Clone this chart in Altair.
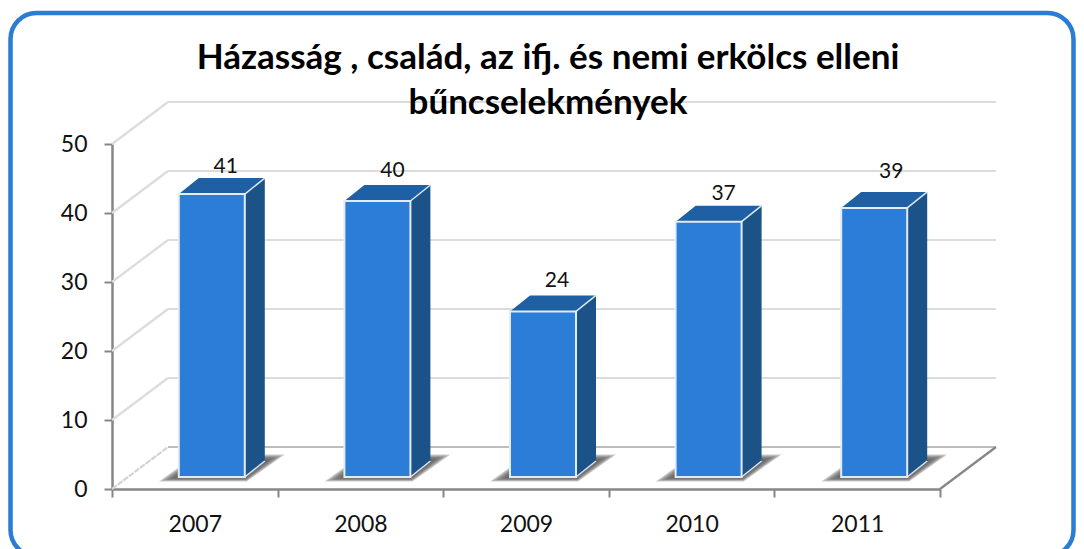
import altair as alt
import pandas as pd

# ---- data
years = ["2007", "2008", "2009", "2010", "2011"]
counts = [41, 40, 24, 37, 39]
y_ticks = [0, 10, 20, 30, 40, 50]
title_lines = ["Házasság , család, az ifj. és nemi erkölcs elleni", "bűncselekmények"]

# ---- projection of the 3D box, in data units (x = category widths, y = value units)
PX_X = 828 / 5
PX_Y = 345 / 50
WALL_DX, WALL_DY = 56 / PX_X, 42 / PX_Y      # depth of the whole floor
BAR_SHIFT_X, BAR_SHIFT_Y = 17 / PX_X, 12 / PX_Y  # front face offset in depth
BAR_W = 66 / PX_X
BAR_DX, BAR_DY = 20 / PX_X, 16 / PX_Y        # depth of one bar
X_MAX = 5
# hand placement of the value labels in the original, relative to the default spot (px)
LABEL_NUDGE = {"2007": (0, -1), "2008": (1, 2), "2009": (0, 2), "2010": (1, 0), "2011": (3, 8)}


def para(key, xl, xr, y, dx, dy):
    """Horizontal parallelogram as an area (front edge xl..xr at y, back shifted by dx, dy)."""
    rows = []
    xs = sorted({xl, xl + dx, xr, xr + dx})
    for x in xs:
        low = y + dy * max(0, min(1, (x - xr) / dx)) if x > xr else y
        high = y + dy * max(0, min(1, (x - xl) / dx))
        rows.append({"k": key, "x": x, "y": low, "y2": high})
    return rows


front, side, top, labels, edges = [], [], [], [], []
shadow_layers = {g: [] for g in [20, 17, 14, 11, 8, 5, 2]}
for i, (yr, v) in enumerate(zip(years, counts)):
    xl = i + 0.5 - 33 / PX_X + BAR_SHIFT_X
    xr = xl + BAR_W
    y0 = BAR_SHIFT_Y
    yt = v + BAR_SHIFT_Y
    front.append({"x": xl, "x2": xr, "y": y0, "y2": yt})
    side += [
        {"k": i, "x": xr, "y": y0, "y2": yt},
        {"k": i, "x": xr + BAR_DX, "y": y0 + BAR_DY, "y2": yt + BAR_DY},
    ]
    top += para(i, xl, xr, yt, BAR_DX, BAR_DY)
    edges.append({"x": xr, "x2": xr + BAR_DX, "y": yt, "y2": yt + BAR_DY})
    edges.append({"x": xr, "x2": xr + BAR_DX, "y": y0, "y2": y0 + BAR_DY})
    nx, ny = LABEL_NUDGE[yr]
    labels.append({"x": (xl + xr) / 2 + nx / PX_X, "y": yt + ny / PX_Y, "t": str(v)})
    # soft shadow on the floor: nested parallelograms around the bar foot
    for grow in shadow_layers:
        shadow_layers[grow] += para(
            i,
            xl - grow / PX_X,
            xr + 0.1 * grow / PX_X,
            y0 - 0.22 * grow / PX_Y,
            BAR_DX + 0.9 * grow / PX_X,
            BAR_DY + 0.55 * grow / PX_Y,
        )

back = pd.DataFrame([{"x": WALL_DX, "x2": X_MAX + WALL_DX, "y": t + WALL_DY, "y2": t + WALL_DY} for t in y_ticks[1:]])
left = pd.DataFrame([{"x": 0, "x2": WALL_DX, "y": t, "y2": t + WALL_DY} for t in y_ticks[1:]])
floor_back = pd.DataFrame([{"x": WALL_DX, "x2": X_MAX + WALL_DX, "y": WALL_DY, "y2": WALL_DY}])
floor_left = pd.DataFrame([{"x": 0, "x2": WALL_DX, "y": 0, "y2": WALL_DY}])
floor_right = pd.DataFrame([{"x": X_MAX, "x2": X_MAX + WALL_DX, "y": 0, "y2": WALL_DY}])

X = alt.X("x:Q", scale=alt.Scale(domain=[0, X_MAX]), axis=None)
Y = alt.Y(
    "y:Q",
    scale=alt.Scale(domain=[0, 50]),
    axis=alt.Axis(
        values=y_ticks, title=None, grid=False, domainColor="#868686", domainWidth=2.5,
        tickColor="#868686", tickWidth=2, tickSize=8, labelFont="Lato", labelFontSize=23,
        labelColor="#111111", labelPadding=17,
    ),
)


def rules(df, color, width=2.2, **kw):
    return alt.Chart(pd.DataFrame(df)).mark_rule(color=color, strokeWidth=width, clip=False, **kw).encode(
        x=X, x2="x2:Q", y=Y, y2="y2:Q"
    )


def areas(rows, **kw):
    return alt.Chart(pd.DataFrame(rows)).mark_area(clip=False, **kw).encode(
        x=X, y=Y, y2="y2:Q", detail="k:N"
    )


frame = alt.Chart(pd.DataFrame({"a": [0]})).mark_rect(
    filled=False, stroke="#2b7cd3", strokeWidth=4.5, cornerRadius=26, clip=False
).encode(
    x=alt.value(-101.5), x2=alt.value(961.5), y=alt.value(-131), y2=alt.value(412)
)

# x axis with ticks on band edges
x_axis = alt.Chart(pd.DataFrame({"yr": years})).mark_point(opacity=0).encode(
    x=alt.X(
        "yr:N",
        scale=alt.Scale(domain=years, paddingInner=0, paddingOuter=0),
        axis=alt.Axis(
            title=None, labelAngle=0, tickBand="extent", domainColor="#868686", domainWidth=2.5,
            tickColor="#868686", tickWidth=2, tickSize=8, labelFont="Lato", labelFontSize=23,
            labelColor="#111111", labelPadding=16,
        ),
    )
)

title_marks = [
    alt.Chart(pd.DataFrame({"t": [line]})).mark_text(
        font="Lato", fontSize=35, fontWeight="bold", color="#000000", baseline="middle", clip=False
    ).encode(x=alt.value(436), y=alt.value(ypos), text="t:N")
    for line, ypos in zip(title_lines, [-86, -41])
]

layers = [
    frame,
    rules(back, "#dcdcdc"),
    rules(left, "#dcdcdc"),
    rules(floor_back, "#bdbdbd"),
    rules(floor_left, "#d4d4d4", strokeDash=[6, 1]),
    rules(floor_right, "#868686"),
]
for grow, rows in shadow_layers.items():
    layers.append(areas(rows, color="#5a5a5a", opacity=0.3))
layers += [
    areas(side, color="#1b5288"),
    areas(top, color="#1f5fa3"),
    rules(edges, "#dbe6f3", width=1.5),
    alt.Chart(pd.DataFrame(front)).mark_rect(
        color="#2b7dd8", stroke="#e3ebf5", strokeWidth=2, clip=False
    ).encode(x=X, x2="x2:Q", y=Y, y2="y2:Q"),
    alt.Chart(pd.DataFrame(labels)).mark_text(
        font="Lato", fontSize=21, color="#111111", baseline="bottom", dx=14, dy=-18, clip=False
    ).encode(x=X, y=Y, text="t:N"),
    x_axis,
    *title_marks,
]

chart = (
    alt.layer(*layers)
    .resolve_scale(x="independent")
    .properties(
        width=828,
        height=345,
        padding={"left": 104, "top": 136, "right": 136, "bottom": 60},
        autosize=alt.AutoSizeParams(type="none"),
    )
    .configure_view(stroke=None)
)

chart.save("out.html", embed_options={"renderer": "svg", "actions": False})
